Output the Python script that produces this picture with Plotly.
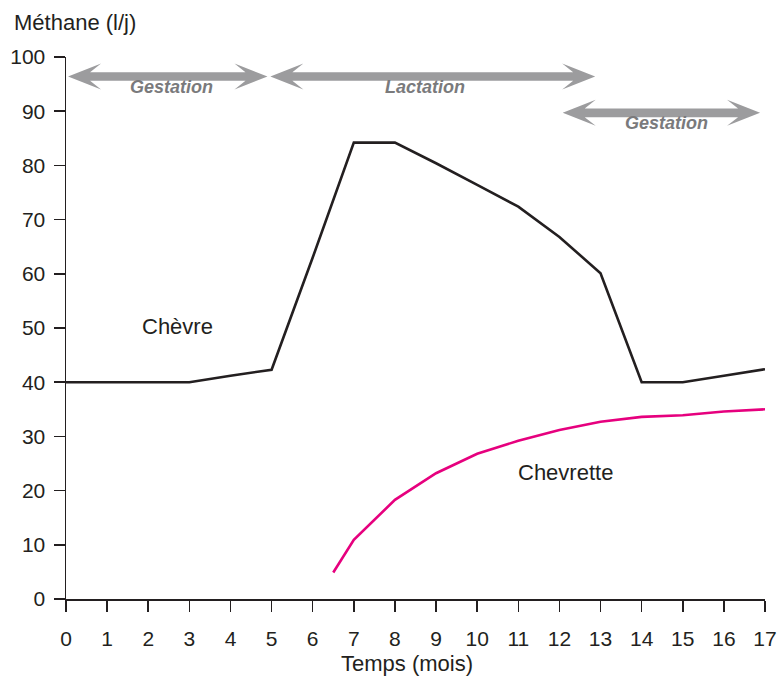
import plotly.graph_objects as go

# ---- data ----
mois = list(range(0, 18))
chevre = [40, 40, 40, 40, 41.2, 42.3, 63, 84.2, 84.2, 80.4, 76.4, 72.4, 66.8, 60.1, 40, 40, 41.2, 42.4]
mois_chevrette = [6.5, 7, 8, 9, 10, 11, 12, 13, 14, 15, 16, 17]
chevrette = [4.9, 10.9, 18.3, 23.2, 26.8, 29.2, 31.2, 32.7, 33.6, 33.9, 34.6, 35.0]
x_ticks = list(range(0, 18))
y_ticks = list(range(0, 101, 10))

# periods: (label, start, end, y of arrow, label x, label y)
periodes = [
    ("Gestation", 0.05, 4.9, 96.4, 2.57, 94.4),
    ("Lactation", 4.97, 12.87, 96.4, 8.73, 94.5),
    ("Gestation", 12.08, 16.88, 89.7, 14.61, 87.8),
]

# ---- layout geometry (body margin removed by post_script) ----
W, H = 780, 678
ML, MT = 66, 57
PW, PH = 699, 542
MR, MB = W - ML - PW, H - MT - PH
XR, YR = 17.0, 100.0
sx, sy = PW / XR, PH / YR

FONT = "Liberation Sans, Arial, sans-serif"
DARK = "#231f20"
ARROW = "#9c9c9e"
LABEL_GRAY = "#7a7a7c"

fig = go.Figure()
fig.add_trace(go.Scatter(x=mois, y=chevre, mode="lines",
                         line=dict(color=DARK, width=2.6), cliponaxis=False,
                         showlegend=False, hoverinfo="skip"))
fig.add_trace(go.Scatter(x=mois_chevrette, y=chevrette, mode="lines",
                         line=dict(color="#e6007e", width=2.6), cliponaxis=False,
                         showlegend=False, hoverinfo="skip"))


def arrow_path(xa, xb, yc, hw=4.3, L=33, bw=13, nd=22):
    dx = lambda p: p / sx
    dy = lambda p: p / sy
    pts = [
        (xa, yc),
        (xa + dx(L), yc + dy(bw)),
        (xa + dx(nd), yc + dy(hw)),
        (xb - dx(nd), yc + dy(hw)),
        (xb - dx(L), yc + dy(bw)),
        (xb, yc),
        (xb - dx(L), yc - dy(bw)),
        (xb - dx(nd), yc - dy(hw)),
        (xa + dx(nd), yc - dy(hw)),
        (xa + dx(L), yc - dy(bw)),
    ]
    return "M " + " L ".join(f"{x:.4f},{y:.4f}" for x, y in pts) + " Z"


shapes = []
annotations = []
for lab, xa, xb, ya, lx, ly in periodes:
    shapes.append(dict(type="path", xref="x", yref="y", path=arrow_path(xa, xb, ya),
                       fillcolor=ARROW, line=dict(width=0), layer="above"))
    annotations.append(dict(x=lx, y=ly, xref="x", yref="y", text=f"<b><i>{lab}</i></b>",
                            showarrow=False, font=dict(family=FONT, size=18, color=LABEL_GRAY)))


def px_x(p):
    return (p - ML) / PW


def px_y(p):
    return 1 - (p - MT) / PH


annotations += [
    dict(x=2.72, y=50.2, xref="x", yref="y", text="Chèvre", showarrow=False,
         font=dict(family=FONT, size=22, color=DARK)),
    dict(x=12.14, y=23.4, xref="x", yref="y", text="Chevrette", showarrow=False,
         font=dict(family=FONT, size=22, color=DARK)),
    dict(x=px_x(12), y=px_y(22), xref="paper", yref="paper",
         xanchor="left", yanchor="middle", text="Méthane (l/j)", showarrow=False,
         font=dict(family=FONT, size=22, color=DARK)),
    dict(x=px_x(407), y=px_y(663), xref="paper", yref="paper",
         xanchor="center", yanchor="middle", text="Temps (mois)", showarrow=False,
         font=dict(family=FONT, size=22, color=DARK)),
]

fig.update_layout(
    width=W, height=H,
    margin=dict(l=ML, r=MR, t=MT, b=MB, pad=0, autoexpand=False),
    paper_bgcolor="white", plot_bgcolor="white",
    font=dict(family=FONT, size=20, color=DARK),
    shapes=shapes, annotations=annotations,
    xaxis=dict(range=[0, XR], tickvals=x_ticks, ticktext=[str(v) for v in x_ticks],
               automargin=False,
               showgrid=False, zeroline=False, showline=True, linecolor=DARK, linewidth=1.5,
               ticks="outside", ticklen=11, tickwidth=1.5, tickcolor=DARK, ticklabelstandoff=9,
               tickfont=dict(family=FONT, size=21, color=DARK), fixedrange=True),
    yaxis=dict(range=[0, YR], tickvals=y_ticks, ticktext=[str(v) for v in y_ticks],
               automargin=False,
               showgrid=False, zeroline=False, showline=True, linecolor=DARK, linewidth=1.5,
               ticks="outside", ticklen=11, tickwidth=1.5, tickcolor=DARK, ticklabelstandoff=4,
               tickfont=dict(family=FONT, size=21, color=DARK), fixedrange=True),
)

fig.write_html(
    "out.html",
    config={"displayModeBar": False, "staticPlot": True},
    post_script="document.body.style.margin='0';document.body.style.overflow='hidden';",
)
